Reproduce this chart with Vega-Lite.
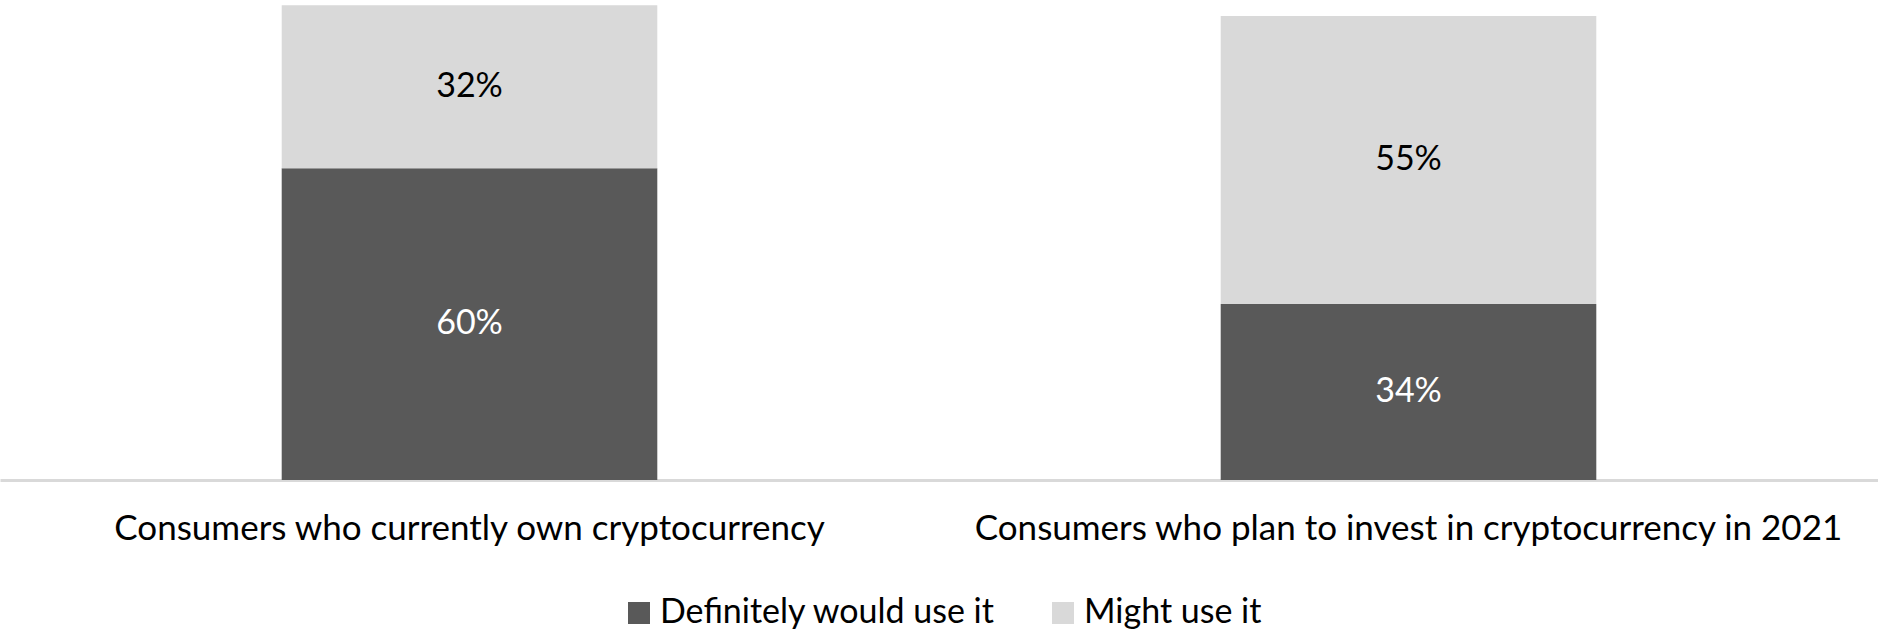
{
  "$schema": "https://vega.github.io/schema/vega-lite/v6.json",
  "width": 1878,
  "height": 480,
  "autosize": {"type": "none"},
  "padding": {"top": 0, "left": 0, "right": 0, "bottom": 151},
  "background": "white",
  "config": {
    "view": {"stroke": null},
    "font": "Lato"
  },
  "data": {
    "values": [
      {"group": "Consumers who currently own cryptocurrency", "series": "Definitely would use it", "value": 60.4, "label": "60%"},
      {"group": "Consumers who currently own cryptocurrency", "series": "Might use it", "value": 31.6, "label": "32%"},
      {"group": "Consumers who plan to invest in cryptocurrency in 2021", "series": "Definitely would use it", "value": 34.1, "label": "34%"},
      {"group": "Consumers who plan to invest in cryptocurrency in 2021", "series": "Might use it", "value": 55.8, "label": "55%"}
    ]
  },
  "encoding": {
    "x": {
      "field": "group",
      "type": "nominal",
      "sort": null,
      "scale": {"paddingInner": 0.6, "paddingOuter": 0.3},
      "axis": {
        "title": null,
        "labelAngle": 0,
        "ticks": false,
        "domainColor": "#d9d9d9",
        "domainWidth": 3,
        "labelFontSize": 35,
        "labelColor": "black",
        "labelFont": "Lato",
        "labelBaseline": "alphabetic",
        "labelPadding": 59,
        "labelLimit": 0
      }
    }
  },
  "layer": [
    {
      "mark": {"type": "bar"},
      "encoding": {
        "y": {"field": "value", "type": "quantitative", "stack": "zero", "scale": {"domain": [0, 93], "nice": false}, "axis": null},
        "color": {
          "field": "series",
          "type": "nominal",
          "scale": {"domain": ["Definitely would use it", "Might use it"], "range": ["#595959", "#d9d9d9"]},
          "legend": {
            "title": null,
            "orient": "none",
            "direction": "horizontal",
            "legendX": 622,
            "legendY": 596,
            "padding": 0,
            "symbolType": "square",
            "symbolSize": 484,
            "symbolStrokeWidth": 0,
            "labelFontSize": 34,
            "labelColor": "black",
            "labelOffset": 4,
            "columnPadding": 50,
            "labelLimit": 0
          }
        },
        "order": {"field": "series", "sort": "ascending"}
      }
    },
    {
      "transform": [
        {"stack": "value", "groupby": ["group"], "sort": [{"field": "series", "order": "ascending"}], "as": ["v0", "v1"]},
        {"fold": ["v0", "v1"], "as": ["k", "edge"]},
        {"aggregate": [{"op": "mean", "field": "edge", "as": "mid"}], "groupby": ["group", "series", "label"]}
      ],
      "mark": {"type": "text", "fontSize": 34, "baseline": "middle", "align": "center"},
      "encoding": {
        "y": {"field": "mid", "type": "quantitative"},
        "text": {"field": "label"},
        "color": {
          "condition": {"test": "datum.series === 'Definitely would use it'", "value": "white"},
          "value": "black"
        }
      }
    }
  ]
}
